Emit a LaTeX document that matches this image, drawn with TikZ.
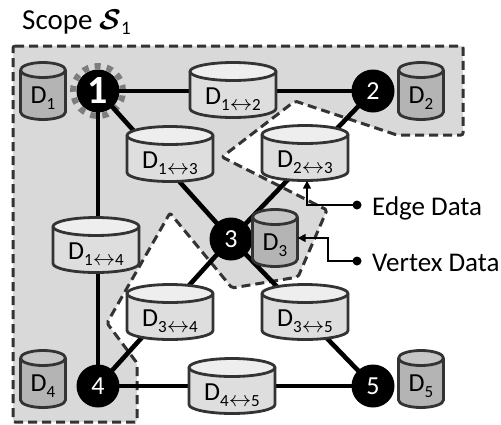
\documentclass[tikz,border=0pt]{standalone}
\usepackage{fontspec}
\setmainfont{Carlito}
\usetikzlibrary{arrows.meta}
\definecolor{scopefill}{RGB}{217,217,217}
\definecolor{bord}{RGB}{51,51,51}
\definecolor{vbody}{RGB}{180,180,180}
\definecolor{vtop}{RGB}{198,198,198}
\definecolor{ebody}{RGB}{222,222,222}
\definecolor{etop}{RGB}{238,238,238}
\definecolor{ringc}{RGB}{125,125,125}

\newcommand\Dlab[1]{D\raisebox{-6pt}{\fontsize{17}{17}\selectfont #1}}
\newcommand\lrar{\scalebox{1.3}[1.25]{\ensuremath{\leftrightarrow}}}

% name, x, y, w, h, ry, prefix (v/e), label
\newcommand\cyl[8]{%
  \pgfmathsetmacro\cylrx{#4/2}%
  \pgfmathsetmacro\cylL{#2-#4/2}%
  \pgfmathsetmacro\cylR{#2+#4/2}%
  \pgfmathsetmacro\cylT{#3-#5/2+#6}%
  \pgfmathsetmacro\cylB{#3+#5/2-#6}%
  \pgfmathsetmacro\cylH{#5-2*#6}%
  \path[fill=#7body] (\cylL,\cylT) -- (\cylL,\cylB)
     arc[start angle=180,end angle=360,x radius=\cylrx pt,y radius=#6pt]
     -- (\cylR,\cylT)
     arc[start angle=0,end angle=180,x radius=\cylrx pt,y radius=#6pt] -- cycle;
  \path[fill=#7top] (#2,\cylT) ellipse[x radius=\cylrx pt,y radius=#6pt];
  \draw[cylline] (\cylL,\cylT) -- (\cylL,\cylB)
     arc[start angle=180,end angle=360,x radius=\cylrx pt,y radius=#6pt]
     -- (\cylR,\cylT);
  \draw[cylline] (#2,\cylT) ellipse[x radius=\cylrx pt,y radius=#6pt];
  \node[cyltext, minimum width=#4pt, minimum height=\cylH pt] (#1) at (#2,{#3+#6}) {#8};
}

\begin{document}
\begin{tikzpicture}[x=1pt,y=-1pt,
  cylline/.style={draw=bord,line width=2.8pt,line join=round},
  cyltext/.style={inner sep=0pt,text=black,font=\fontsize{26}{26}\selectfont},
  gnode/.style={circle,fill=black,minimum size=43pt,inner sep=0pt,text=white,
     font=\fontsize{26}{26}\selectfont},
  edge/.style={line width=4.6pt,draw=black},
  scopeline/.style={draw=bord,line width=3pt,dash pattern=on 9pt off 5pt,rounded corners=2pt,line join=round},
  lbl/.style={inner sep=0pt,font=\fontsize{27}{27}\selectfont,text=black},
  conn/.style={draw=black,line width=1.5pt},
  tip/.style={-{Triangle[length=8pt,width=8pt]}},
  dotc/.style={fill=black}
]
\useasboundingbox (0,0) rectangle (501,424);

% scope region
\path[fill=scopefill,scopeline] (13,46) -- (463,46) -- (463,135) -- (397,135)
  -- (295,101) -- (222,157) -- (327,210) -- (298,277) -- (232,288)
  -- (170,213) -- (107,323) -- (137,363) -- (137,422) -- (13,422) -- cycle;

\node[lbl,anchor=base west,font=\fontsize{29}{29}\selectfont] (scopelbl) at (22,29)
  {Scope \scalebox{1.15}{\boldmath$\mathcal{S}$}\raisebox{-5pt}{\fontsize{19}{19}\selectfont 1}};

% graph node positions
\path (98,91) coordinate (p1) (373,91) coordinate (p2) (231,239) coordinate (p3)
      (98,386) coordinate (p4) (373,386) coordinate (p5);

% ring around node 1
\draw[ringc,line width=6pt,dash pattern=on 6pt off 6.2pt] (p1) circle[radius=25pt];

% edges
\draw[edge] (p1) -- (p2);
\draw[edge] (p1) -- (p3);
\draw[edge] (p2) -- (p3);
\draw[edge] (p1) -- (p4);
\draw[edge] (p3) -- (p4);
\draw[edge] (p3) -- (p5);
\draw[edge] (p4) -- (p5);

% edge data cylinders
\cyl{d12}{233}{90}{86}{55}{9}{e}{\Dlab{1\lrar2}}
\cyl{d13}{170}{154}{86}{55}{9}{e}{\Dlab{1\lrar3}}
\cyl{d23}{305}{153}{86}{55}{9}{e}{\Dlab{2\lrar3}}
\cyl{d14}{96}{245}{86}{55}{9}{e}{\Dlab{1\lrar4}}
\cyl{d34}{170}{312}{86}{55}{9}{e}{\Dlab{3\lrar4}}
\cyl{d35}{305}{312}{86}{55}{9}{e}{\Dlab{3\lrar5}}
\cyl{d45}{232}{386}{86}{55}{9}{e}{\Dlab{4\lrar5}}

% vertex nodes
\node[gnode,font=\fontsize{40}{40}\bfseries] (n1) at (p1) {1};
\node[gnode] (n2) at (p2) {2};
\node[gnode] (n3) at (p3) {3};
\node[gnode] (n4) at (p4) {4};
\node[gnode] (n5) at (p5) {5};

% vertex data cylinders
\cyl{d1}{43}{91}{45}{57}{7.5}{v}{\Dlab{1}}
\cyl{d2}{421}{91}{45}{57}{7.5}{v}{\Dlab{2}}
\cyl{d3}{275}{238}{45}{57}{7.5}{v}{\Dlab{3}}
\cyl{d4}{43}{379}{45}{57}{7.5}{v}{\Dlab{4}}
\cyl{d5}{421}{379}{45}{57}{7.5}{v}{\Dlab{5}}

% annotations
\node[lbl,anchor=base west] (elab) at (372,215) {Edge Data};
\node[lbl,anchor=base west] (vlab) at (372,271) {Vertex Data};
\coordinate (edot) at (357,205);
\coordinate (vdot) at (357,261);
\coordinate (vbend) at (328,261);
\draw[conn,tip] (edot) -| ([xshift=2pt]d23.south);
\draw[conn,tip] (vdot) -- (vbend) |- ([yshift=7.5pt]d3.east);
\fill[dotc] (edot) circle[radius=4.5pt];
\fill[dotc] (vdot) circle[radius=4.5pt];
\end{tikzpicture}
\end{document}
